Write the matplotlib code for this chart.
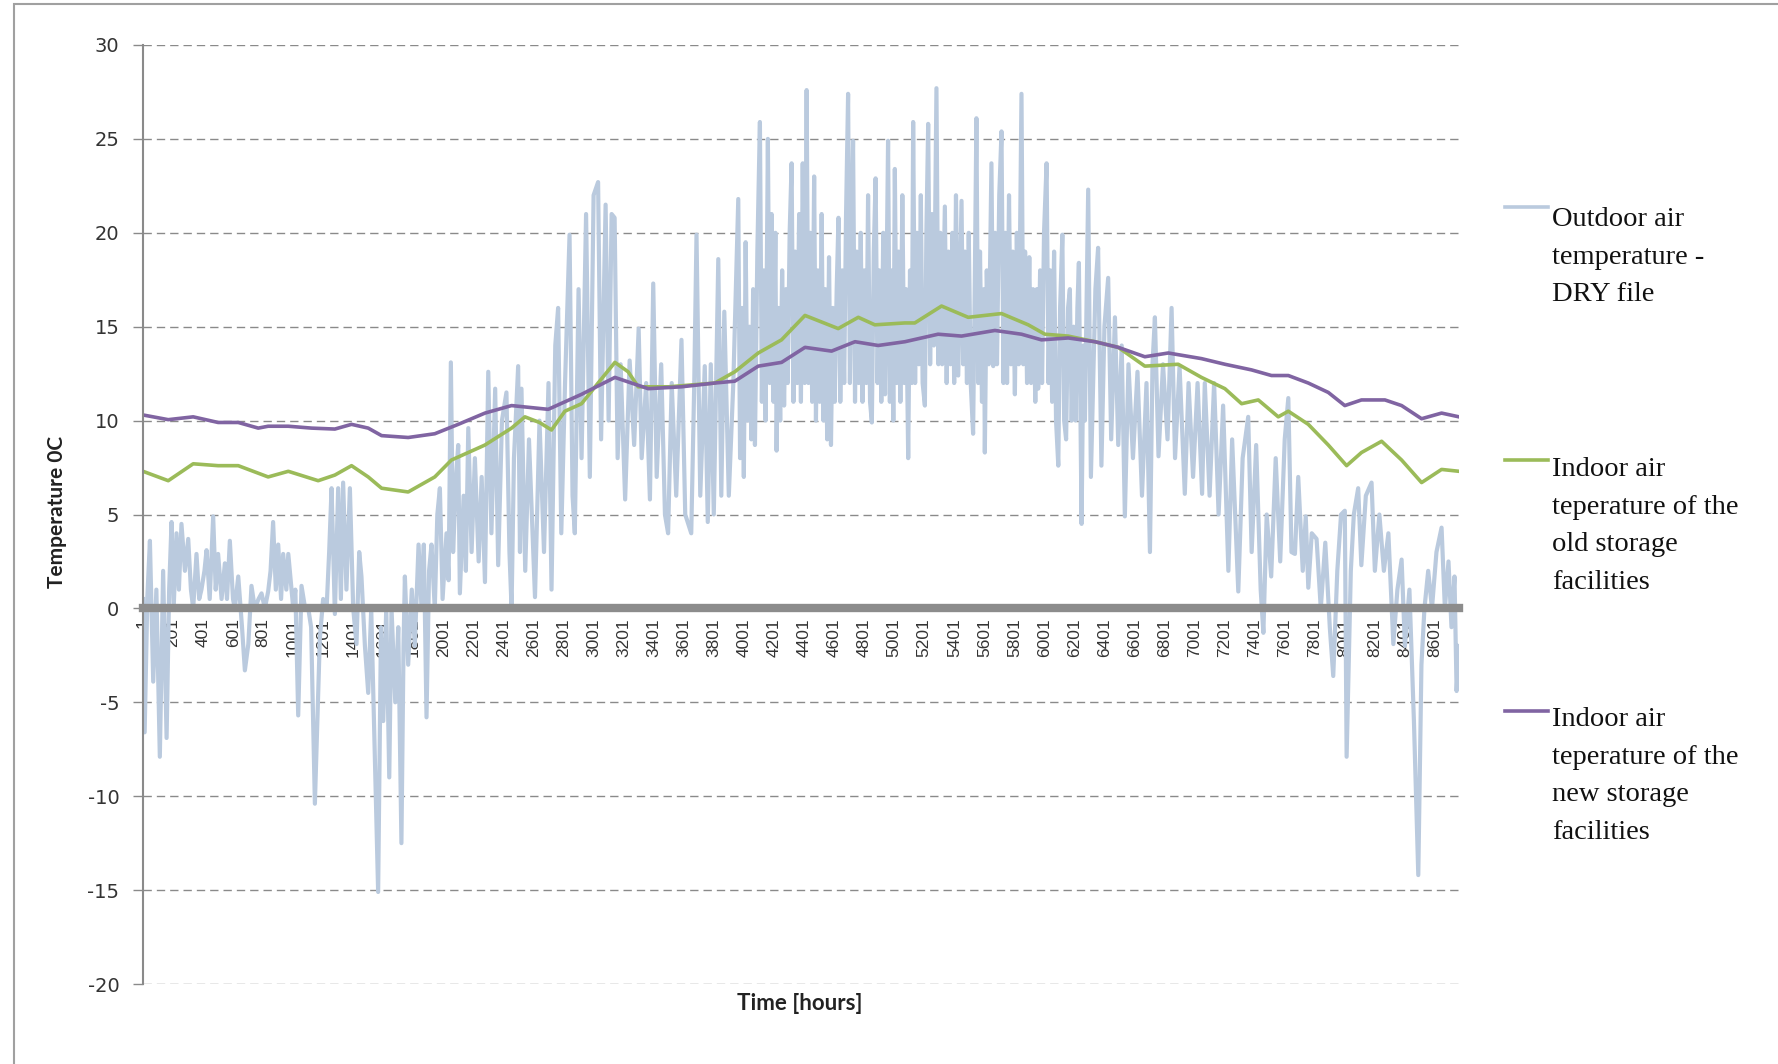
import matplotlib
matplotlib.use('Agg')
import matplotlib.pyplot as plt
from matplotlib.lines import Line2D
from matplotlib.patches import Rectangle

# hourly outdoor temperature (DRY file), peaks and troughs: winter/spring part
spring_hour = [
    1, 12, 30, 47, 69, 90, 113, 135, 158, 175, 191, 205, 224, 240, 257, 280, 302, 320, 335, 357,
    375, 390, 410, 424, 445, 468, 485, 501, 524, 546, 560, 579, 600, 612, 635, 660, 679, 702, 723, 745,
    770, 790, 812, 834, 850, 867, 885, 901, 920, 934, 955, 968, 1001, 1015, 1034, 1056, 1080, 1101, 1120, 1145,
    1178, 1200, 1223, 1240, 1256, 1278, 1300, 1318, 1333, 1355, 1378, 1400, 1422, 1440, 1455, 1478, 1500, 1520, 1544, 1566,
    1585, 1600, 1620, 1640, 1655, 1680, 1700, 1721, 1735, 1744, 1766, 1790, 1810, 1835, 1855, 1870, 1888, 1905, 1921, 1943,
    1960, 1977, 1995, 2021, 2035, 2050, 2065, 2085, 2099, 2110, 2135, 2150, 2166, 2188, 2210, 2235, 2255, 2277, 2299, 2320,
    2345, 2365, 2390, 2420, 2440, 2454, 2470, 2498, 2510, 2520, 2545, 2570, 2610, 2640, 2670, 2700, 2720, 2745, 2764, 2785,
    2810, 2840, 2860, 2875, 2900, 2920, 2950, 2975, 3000, 3030, 3050, 3080, 3100, 3120, 3140, 3160, 3180, 3210, 3240, 3270,
    3300, 3320, 3350, 3375, 3397, 3420, 3450, 3475, 3496, 3520, 3550, 3585, 3610, 3650, 3670, 3685, 3710, 3740, 3760, 3780,
    3800, 3830, 3850, 3870, 3900, 3930]
spring_temp = [
    0.5, -6.6, 0.6, 3.6, -3.9, 1.0, -7.9, 2.0, -6.9, 1.0, 4.6, 0.0, 4.0, 1.0, 4.5, 2.0, 3.7, 1.0, 0.0, 2.9,
    0.5, 1.0, 2.0, 3.1, 0.5, 4.9, 1.0, 2.9, 0.5, 2.4, 0.5, 3.6, 0.5, 0.0, 1.7, -1.0, -3.3, -1.9, 1.2, 0.0,
    0.5, 0.8, 0.0, 0.9, 2.0, 4.6, 1.0, 3.4, 0.5, 2.9, 1.0, 2.9, 0.0, 1.0, -5.7, 1.2, 0.0, 0.0, -1.0, -10.4,
    -1.6, 0.5, 0.0, 3.0, 6.4, -0.3, 6.4, 0.5, 6.7, 1.0, 6.4, 0.0, -1.9, 3.0, 1.7, -2.0, -4.5, 0.0, -8.0, -15.1,
    -1.0, -6.0, 0.0, -9.0, 0.0, -5.0, -1.0, -12.5, -2.0, 1.7, -3.0, 1.0, -2.0, 3.4, 0.0, 3.4, -5.8, 2.0, 3.4, 0.0,
    5.0, 6.4, 0.5, 4.0, 1.5, 13.1, 3.0, 7.0, 8.7, 0.8, 6.0, 2.0, 9.6, 3.0, 8.0, 2.5, 7.0, 1.4, 12.6, 4.0,
    11.7, 2.3, 10.0, 11.5, 3.0, 0.0, 8.0, 12.9, 3.0, 11.7, 2.0, 9.0, 0.6, 10.0, 3.0, 12.0, 1.0, 14.0, 16.0, 4.0,
    12.0, 19.9, 6.0, 4.0, 17.0, 8.0, 21.0, 7.0, 22.0, 22.7, 9.0, 21.5, 10.0, 21.0, 20.8, 8.0, 13.0, 5.8, 13.2, 8.7,
    14.9, 8.0, 12.0, 5.8, 17.3, 7.0, 13.0, 5.0, 4.0, 12.0, 6.0, 14.3, 5.0, 4.0, 12.0, 19.9, 6.0, 12.9, 4.6, 13.0,
    5.0, 18.6, 6.0, 15.8, 6.0, 12.0]

# summer part
summer_hour = [
    3963, 3975, 3988, 4000, 4012, 4025, 4038, 4050, 4062, 4074, 4090, 4107, 4120, 4132, 4145, 4160, 4172, 4185, 4198, 4210,
    4218, 4230, 4242, 4255, 4268, 4280, 4292, 4305, 4318, 4330, 4342, 4355, 4368, 4380, 4392, 4405, 4418, 4430, 4442, 4455,
    4468, 4480, 4492, 4505, 4518, 4530, 4542, 4555, 4567, 4580, 4592, 4605, 4618, 4630, 4642, 4655, 4668, 4680, 4694, 4706,
    4718, 4727, 4740, 4752, 4765, 4778, 4790, 4802, 4815, 4827, 4840, 4852, 4865, 4877, 4890, 4902, 4915, 4928, 4940, 4952,
    4960, 4972, 4985, 4995, 5005, 5018, 5030, 5042, 5055, 5068, 5080, 5094, 5106, 5118, 5127, 5140, 5152, 5165, 5178, 5190,
    5205, 5215, 5227, 5240, 5252, 5265, 5282, 5295, 5308, 5320, 5338, 5350, 5362, 5375, 5388, 5400, 5412, 5427, 5440, 5449,
    5460, 5472, 5485, 5497, 5510, 5526, 5538, 5548, 5560, 5572, 5585, 5598, 5604, 5617, 5630, 5648, 5660, 5672, 5685, 5700,
    5715, 5728, 5740, 5752, 5765, 5778, 5790, 5804, 5817, 5830, 5848, 5860, 5872, 5885, 5900, 5912, 5925, 5940, 5950, 5959,
    5972, 5985, 5998, 6015, 6028, 6040, 6052, 6065, 6078, 6093, 6105, 6120, 6132, 6145, 6158, 6170, 6182, 6195, 6208, 6220,
    6230, 6248, 6260, 6270, 6292]
summer_temp = [
    21.8, 8.0, 16.0, 7.0, 19.5, 10.0, 15.0, 9.0, 17.0, 8.7, 19.0, 25.9, 11.0, 18.0, 10.0, 25.0, 12.0, 21.0, 11.0, 20.0,
    8.4, 16.0, 10.0, 18.0, 10.8, 17.0, 12.0, 20.0, 23.7, 11.0, 19.0, 12.0, 21.0, 11.0, 23.7, 12.0, 27.6, 12.0, 20.0, 11.0,
    23.0, 10.0, 18.0, 11.0, 21.0, 10.0, 17.0, 9.0, 18.7, 8.7, 16.0, 11.0, 17.0, 20.8, 11.0, 18.0, 12.0, 20.8, 27.4, 12.0,
    20.0, 24.9, 11.0, 19.0, 12.0, 20.0, 11.0, 18.0, 12.0, 22.0, 11.0, 9.9, 19.0, 22.9, 12.0, 18.0, 11.0, 20.0, 11.4, 19.0,
    24.9, 11.0, 18.0, 10.0, 23.4, 12.0, 19.0, 11.0, 22.0, 12.0, 17.0, 8.0, 18.0, 12.0, 25.9, 12.0, 20.0, 13.0, 22.0, 12.0,
    10.8, 20.0, 25.8, 13.0, 21.0, 14.0, 27.7, 13.0, 20.0, 13.0, 21.4, 12.0, 19.0, 13.0, 20.0, 12.0, 22.0, 12.4, 18.0, 21.7,
    13.0, 19.0, 12.0, 20.0, 12.0, 9.3, 18.0, 26.1, 12.0, 19.0, 11.0, 17.0, 8.3, 18.0, 13.0, 23.7, 12.9, 20.0, 13.0, 22.0,
    25.4, 12.0, 20.0, 12.0, 22.0, 13.0, 19.0, 11.4, 20.0, 13.0, 27.4, 13.0, 19.0, 12.0, 18.7, 12.0, 17.0, 11.0, 17.0, 11.7,
    18.0, 12.0, 20.0, 23.7, 12.0, 18.0, 11.0, 19.0, 10.0, 7.6, 16.0, 19.9, 10.0, 9.0, 16.0, 17.0, 10.0, 15.0, 10.0, 16.0,
    18.4, 4.5, 14.0, 10.0, 22.3]

# autumn/winter part
autumn_hour = [
    6310, 6340, 6358, 6380, 6400, 6425, 6445, 6470, 6492, 6515, 6536, 6560, 6590, 6620, 6650, 6680, 6703, 6720, 6736,
    6760, 6790, 6820, 6847, 6870, 6900, 6935, 6960, 6990, 7020, 7050, 7068, 7100, 7130, 7160, 7190, 7225, 7250, 7291, 7320,
    7357, 7380, 7410, 7440, 7458, 7480, 7510, 7540, 7570, 7600, 7624, 7645, 7668, 7690, 7720, 7740, 7757, 7780, 7812, 7840,
    7870, 7900, 7923, 7950, 7975, 8000, 8012, 8040, 8060, 8089, 8110, 8140, 8178, 8200, 8230, 8260, 8290, 8323, 8350, 8378,
    8400, 8430, 8460, 8489, 8510, 8530, 8555, 8580, 8610, 8644, 8666, 8690, 8710, 8730, 8744, 8760]
autumn_temp = [
    7.0, 17.0, 19.2, 7.6, 15.0, 17.6, 9.0, 15.5, 8.7, 14.0, 4.9, 13.0, 8.0, 12.6, 6.0, 12.0, 3.0, 13.0, 15.5,
    8.1, 13.0, 9.0, 16.0, 8.0, 12.9, 6.1, 12.0, 7.0, 12.0, 6.1, 12.0, 6.0, 12.0, 5.0, 10.8, 2.0, 9.0, 0.9, 8.0,
    10.2, 3.0, 8.7, 1.0, -1.3, 5.0, 1.7, 8.0, 2.5, 9.0, 11.2, 3.0, 2.9, 7.0, 2.0, 4.9, 1.1, 4.0, 3.7, 0.0,
    3.5, -1.0, -3.6, 2.0, 5.0, 5.2, -7.9, 2.0, 5.0, 6.4, 2.3, 6.0, 6.7, 2.0, 5.0, 2.0, 4.0, -1.9, 1.0, 2.6,
    -2.0, 1.0, -6.0, -14.2, -3.0, 0.0, 2.0, 0.0, 3.0, 4.3, 0.0, 2.5, -1.0, 1.7, -4.4, -2.0]

outdoor_hour = spring_hour + summer_hour + autumn_hour
outdoor_temp = spring_temp + summer_temp + autumn_temp

# indoor air temperature, old storage facilities
old_hour = [1, 169, 335, 501, 635, 834, 968, 1167, 1278, 1389, 1500, 1589, 1766, 1943, 2054, 2277, 2454,
            2543, 2640, 2720, 2809, 2920, 3030, 3142, 3230, 3297, 3500, 3807, 3940, 4096, 4251, 4407, 4628,
            4762, 4872, 5072, 5138, 5316, 5493, 5715, 5893, 6004, 6159, 6337, 6492, 6669, 6891, 7046, 7202,
            7313, 7424, 7557, 7624, 7757, 7890, 8012, 8111, 8245, 8378, 8511, 8644, 8760]
old_temp = [7.3, 6.8, 7.7, 7.6, 7.6, 7.0, 7.3, 6.8, 7.1, 7.6, 7.0, 6.4, 6.2, 7.0, 7.9, 8.7, 9.6,
            10.2, 9.9, 9.5, 10.5, 10.9, 12.0, 13.1, 12.6, 11.8, 11.8, 12.0, 12.6, 13.6, 14.3, 15.6, 14.9,
            15.5, 15.1, 15.2, 15.2, 16.1, 15.5, 15.7, 15.1, 14.6, 14.5, 14.2, 13.9, 12.9, 13.0, 12.3, 11.7,
            10.9, 11.1, 10.2, 10.5, 9.8, 8.7, 7.6, 8.3, 8.9, 7.9, 6.7, 7.4, 7.3]

# indoor air temperature, new storage facilities
new_hour = [1, 169, 335, 501, 635, 768, 834, 968, 1123, 1278, 1389, 1500, 1589, 1766, 1943, 2099, 2277,
            2454, 2698, 2920, 3142, 3252, 3364, 3585, 3807, 3940, 4096, 4251, 4407, 4584, 4740, 4894, 5072,
            5293, 5449, 5671, 5848, 5981, 6159, 6337, 6492, 6669, 6825, 7046, 7202, 7379, 7512, 7624, 7757,
            7890, 8000, 8111, 8267, 8378, 8511, 8644, 8760]
new_temp = [10.3, 10.05, 10.2, 9.9, 9.9, 9.6, 9.7, 9.7, 9.6, 9.55, 9.8, 9.6, 9.2, 9.1, 9.3, 9.8, 10.4,
            10.8, 10.6, 11.4, 12.3, 12.0, 11.7, 11.8, 12.0, 12.1, 12.9, 13.1, 13.9, 13.7, 14.2, 14.0, 14.2,
            14.6, 14.5, 14.8, 14.6, 14.3, 14.4, 14.2, 13.9, 13.4, 13.6, 13.3, 13.0, 12.7, 12.4, 12.4, 12.0,
            11.5, 10.8, 11.1, 11.1, 10.8, 10.1, 10.4, 10.2]

tick_hours = list(range(1, 8761, 200))
y_ticks = [-20, -15, -10, -5, 0, 5, 10, 15, 20, 25, 30]

series_colors = ['#BACADE', '#9BBB59', '#8064A2']
legend_text = [["Outdoor air", "temperature -", "DRY file"],
               ["Indoor air", "teperature of the", "old storage", "facilities"],
               ["Indoor air", "teperature of the", "new storage", "facilities"]]

W, H = 1778, 1064
fig = plt.figure(figsize=(W / 100, H / 100), dpi=100)
ax = fig.add_axes([143 / W, 1 - 984 / H, (1459 - 143) / W, (984 - 45) / H])

# horizontal axis sits on the zero line (set first, it resets the ticks)
for s in ('top', 'right'):
    ax.spines[s].set_visible(False)
ax.spines['bottom'].set_position(('data', 0))
ax.spines['bottom'].set_color('#8c8c8c')
ax.spines['bottom'].set_linewidth(6)
ax.spines['left'].set_color('#8a8a8a')
ax.spines['left'].set_linewidth(1.5)

ax.plot(outdoor_hour, outdoor_temp, color=series_colors[0], lw=3.0, zorder=1)
ax.plot(old_hour, old_temp, color=series_colors[1], lw=2.6, zorder=2)
ax.plot(new_hour, new_temp, color=series_colors[2], lw=2.6, zorder=2)

ax.set_xlim(1, 8760)
ax.set_ylim(-20, 30)
ax.set_yticks(y_ticks)
ax.set_yticklabels([str(v) for v in y_ticks], fontfamily='DejaVu Sans', fontsize=14, color='#333333')
ax.set_xticks(tick_hours)
ax.set_xticklabels([str(h) for h in tick_hours], fontfamily='Liberation Sans',
                   fontsize=12.5, color='#333333')
ax.tick_params(axis='x', length=0, pad=7, labelrotation=90)
ax.tick_params(axis='y', length=7, width=1, color='#8a8a8a', pad=10)

ax.yaxis.grid(True, color='#8a8a8a', lw=1, linestyle=(0, (6, 3.6)))
ax.set_axisbelow(True)

fig.text(57 / W, 1 - 512 / H, 'Temperature 0C', rotation=90, ha='center', va='center',
         fontfamily='Lato', fontweight='bold', fontsize=15, color='#222222')
fig.text(800 / W, 1 - 1004 / H, 'Time [hours]', ha='center', va='center',
         fontfamily='Lato', fontweight='bold', fontsize=16, color='#222222')

# legend drawn by hand on the right
line_y = [207, 460, 711]
first_base = [226, 476, 726]
for i in range(3):
    fig.add_artist(Line2D([1505 / W, 1548 / W], [1 - line_y[i] / H] * 2, transform=fig.transFigure,
                          color=series_colors[i], lw=2.6))
    for k, s in enumerate(legend_text[i]):
        fig.text(1552 / W, 1 - (first_base[i] + 37.6 * k) / H, s, ha='left', va='baseline',
                 fontfamily='Liberation Serif', fontsize=20.5, color='#111111')

fig.add_artist(Rectangle((14 / W, -0.1), 2, 1.1 - 4 / H, transform=fig.transFigure,
                         fill=False, edgecolor='#a0a0a0', lw=1.5))

fig.savefig('out.png', dpi=100)
